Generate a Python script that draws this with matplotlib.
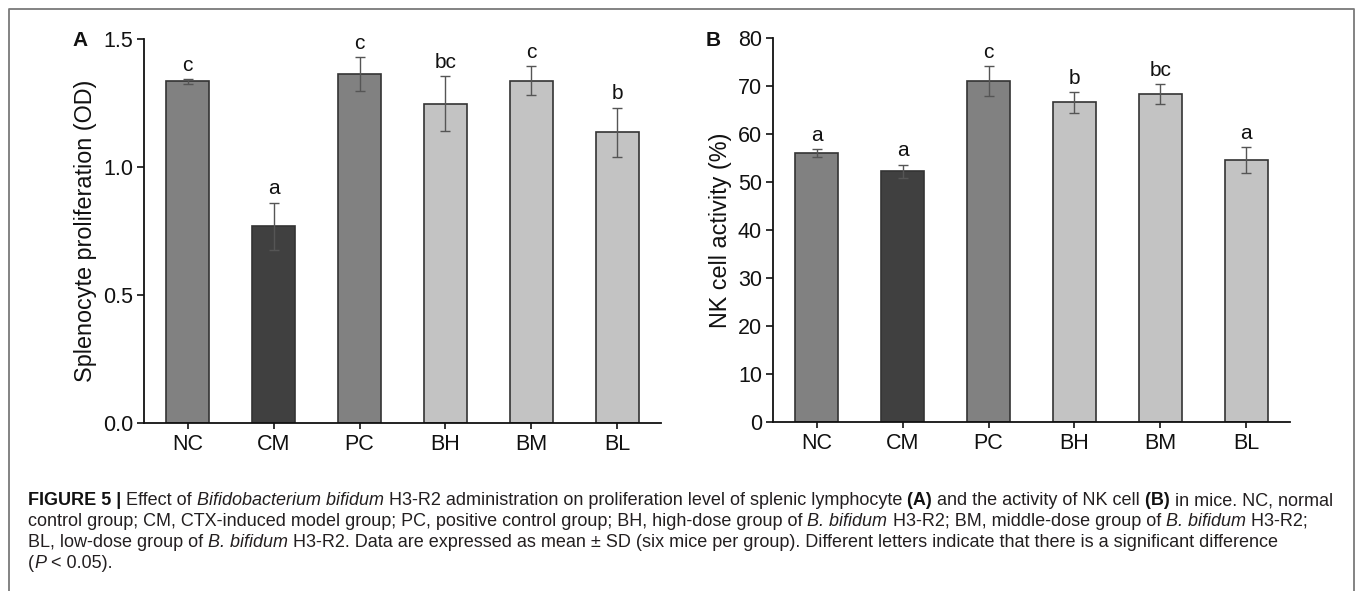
import matplotlib
matplotlib.use("Agg")
import matplotlib.pyplot as plt
from matplotlib.lines import Line2D

plt.rcParams['font.family'] = ['Liberation Sans', 'DejaVu Sans']

# ---------------- data ----------------
groups = ["NC", "CM", "PC", "BH", "BM", "BL"]
prolif_mean = [1.336, 0.770, 1.364, 1.249, 1.338, 1.136]
prolif_sd = [0.010, 0.092, 0.067, 0.108, 0.056, 0.097]
prolif_letters = ["c", "a", "c", "bc", "c", "b"]
nk_mean = [56.0, 52.2, 71.0, 66.6, 68.3, 54.6]
nk_sd = [0.8, 1.4, 3.1, 2.2, 2.1, 2.65]
nk_letters = ["a", "a", "c", "b", "bc", "a"]
bar_colors = ["#818181", "#404040", "#818181", "#c3c3c3", "#c3c3c3", "#c3c3c3"]
prolif_ticks = [0.0, 0.5, 1.0, 1.5]
prolif_ticklabels = ["0.0", "0.5", "1.0", "1.5"]
nk_ticks = [0, 10, 20, 30, 40, 50, 60, 70, 80]

W, H = 1357, 591
fig = plt.figure(figsize=(W / 100, H / 100), dpi=100)


def fx(px):
    return px / W


def fy(py):
    return 1 - py / H


def panel(rect, means, sds, letters, yticks, yticklabels, ylim, ylabel, tag, tagx):
    ax = fig.add_axes(rect)
    x = list(range(len(groups)))
    ax.bar(x, means, width=0.5, color=bar_colors, edgecolor="#333333",
           linewidth=1.2, zorder=2)
    ax.errorbar(x, means, yerr=sds, fmt="none", ecolor="#555555",
                elinewidth=1.0, capsize=3.5, capthick=1.0, zorder=3)
    for xi, m, s, lab in zip(x, means, sds, letters):
        ax.annotate(lab, (xi, m + s), xytext=(0, 3), textcoords="offset points",
                    ha="center", va="bottom", fontsize=15, color="#111111")
    ax.set_xlim(-0.51, len(groups) - 0.49)
    ax.set_ylim(*ylim)
    ax.set_xticks(x)
    ax.set_xticklabels(groups)
    ax.set_yticks(yticks)
    ax.set_yticklabels(yticklabels)
    for s in ("top", "right"):
        ax.spines[s].set_visible(False)
    for s in ("left", "bottom"):
        ax.spines[s].set_linewidth(1.3)
        ax.spines[s].set_color("#111111")
    ax.tick_params(axis="y", length=5, width=1.2, pad=3, labelsize=15.5,
                   colors="#111111")
    ax.tick_params(axis="x", length=4, width=1.2, pad=4, labelsize=15.5,
                   colors="#111111")
    ax.set_ylabel(ylabel, fontsize=16.8, color="#111111", labelpad=4)
    fig.text(fx(tagx), fy(41), tag, fontsize=15, fontweight="bold",
             ha="left", va="center", color="#111111")
    return ax


panel([fx(144), fy(423), fx(661 - 144), (423 - 39.3) / H],
      prolif_mean, prolif_sd, prolif_letters, prolif_ticks, prolif_ticklabels,
      (0, 1.5), "Splenocyte proliferation (OD)", "A", 72)
panel([fx(773), fy(421.7), fx(1290 - 773), (421.7 - 38) / H],
      nk_mean, nk_sd, nk_letters, nk_ticks, [str(t) for t in nk_ticks],
      (0, 80), "NK cell activity (%)", "B", 706)

# ---------------- frame ----------------
frame_col = "#7a7a7a"
fig.add_artist(Line2D([fx(8.5), fx(8.5), fx(1353.5), fx(1353.5)],
                      [0, fy(8.5), fy(8.5), 0], transform=fig.transFigure,
                      color=frame_col, linewidth=1.3))

# ---------------- caption ----------------
cap_lines = [
    [("FIGURE 5 |", "bold"), (" Effect of", "normal"),
     (" Bifidobacterium bifidum", "italic"),
     (" H3-R2 administration on proliferation level of splenic lymphocyte", "normal"),
     (" (A)", "bold"), (" and the activity of NK cell", "normal"), (" (B)", "bold"),
     (" in mice. NC, normal", "normal")],
    [("control group; CM, CTX-induced model group; PC, positive control group; BH, high-dose group of", "normal"),
     (" B. bifidum", "italic"), (" H3-R2; BM, middle-dose group of", "normal"),
     (" B. bifidum", "italic"), (" H3-R2;", "normal")],
    [("BL, low-dose group of", "normal"), (" B. bifidum", "italic"),
     (" H3-R2. Data are expressed as mean \u00b1 SD (six mice per group). Different letters indicate that there is a significant difference", "normal")],
    [("(", "normal"), ("P", "italic"), (" < 0.05).", "normal")],
]
baselines = [505, 526, 547, 568]
cap_size = 13.0
renderer = fig.canvas.get_renderer()
for runs, base in zip(cap_lines, baselines):
    xpos = 28.0
    for txt, style in runs:
        kw = dict(fontsize=cap_size, ha="left", va="baseline",
                  color="#231f20")
        if style == "bold":
            kw["fontweight"] = "bold"
            kw["color"] = "#111111"
        elif style == "italic":
            kw["fontstyle"] = "italic"
        t = fig.text(fx(xpos), fy(base), txt, **kw)
        bb = t.get_window_extent(renderer)
        xpos += bb.width

fig.savefig("out.png", dpi=100)
